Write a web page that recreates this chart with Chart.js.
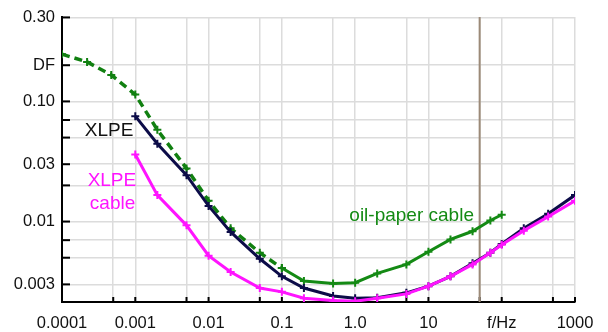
<!DOCTYPE html>
<html>
<head>
<meta charset="utf-8">
<script src="https://cdn.jsdelivr.net/npm/chart.js@4/dist/chart.umd.min.js"></script>
<style>
  html, body { margin: 0; padding: 0; background: #fff; }
  #wrap { width: 608px; height: 332px; }
</style>
</head>
<body>
<div id="wrap"><canvas id="dfChart"></canvas></div>
<script>
// frequency (Hz) and dissipation factor readings
var oilDashFreq = [0.0001, 0.00022, 0.00047, 0.001, 0.002, 0.005, 0.01, 0.02, 0.05, 0.1];
var oilDashDF   = [0.247, 0.213, 0.166, 0.114, 0.058, 0.0277, 0.0149, 0.0088, 0.0055, 0.0041];
var oilFreq = [0.1, 0.2, 0.5, 1, 2, 5, 10, 20, 40, 70, 100];
var oilDF   = [0.0041, 0.0032, 0.00305, 0.0031, 0.0037, 0.0044, 0.0056, 0.0071, 0.0083, 0.0102, 0.0114];
var xlpeFreq = [0.001, 0.002, 0.005, 0.01, 0.02, 0.05, 0.1, 0.2, 0.5, 1, 2, 5, 10, 20, 40, 70, 100, 200, 430, 1000];
var xlpeDF   = [0.0754, 0.0444, 0.0243, 0.0135, 0.0082, 0.0049, 0.0035, 0.0028, 0.0024, 0.0023, 0.00232, 0.00255, 0.0029, 0.0035, 0.0045, 0.0055, 0.0065, 0.0088, 0.0116, 0.0166];
var cableDF  = [0.0361, 0.0166, 0.0093, 0.0052, 0.0038, 0.0028, 0.0026, 0.0023, 0.0022, 0.00217, 0.0023, 0.0025, 0.0029, 0.0035, 0.0044, 0.0055, 0.0064, 0.0084, 0.011, 0.0149];

var xTicks = [0.0001, 0.0005, 0.001, 0.005, 0.01, 0.05, 0.1, 0.5, 1, 5, 10, 50, 100, 500, 1000];
var xTickLabels = {0.0001: "0.0001", 0.001: "0.001", 0.01: "0.01", 0.1: "0.1", 1: "1.0", 10: "10", 100: "f/Hz", 1000: "1000"};
var yTicks = [0.5, 0.2, 0.1, 0.07, 0.05, 0.03, 0.02, 0.01, 0.007, 0.005, 0.003];
var yTickLabels = {0.5: "0.30", 0.2: "DF", 0.1: "0.10", 0.03: "0.03", 0.01: "0.01", 0.003: "0.003"};
var mainsFreq = 50;

var notes = [
  { text: "XLPE", x: 0.00044, y: 0.0567, color: "#111" },
  { text: "XLPE", x: 0.00048, y: 0.0217, color: "#ff14ff" },
  { text: "cable", x: 0.00049, y: 0.0141, color: "#ff14ff" },
  { text: "oil-paper cable", x: 5.9, y: 0.0112, color: "#148a14" }
];

function pts(xs, ys) {
  return xs.map(function (f, i) { return { x: f, y: ys[i] }; });
}

var FONT = "'Liberation Sans', Arial, sans-serif";

var extras = {
  id: "extras",
  beforeDatasetsDraw: function (chart) {
    var c = chart.ctx, xs = chart.scales.x, ys = chart.scales.y, a = chart.chartArea;
    c.save();
    // inward tick marks
    c.strokeStyle = "#000";
    c.lineWidth = 2;
    xTicks.forEach(function (v) {
      var px = xs.getPixelForValue(v);
      c.beginPath(); c.moveTo(px, a.bottom); c.lineTo(px, a.bottom - 5); c.stroke();
    });
    yTicks.forEach(function (v) {
      var py = ys.getPixelForValue(v);
      c.beginPath(); c.moveTo(a.left, py); c.lineTo(a.left + 8, py); c.stroke();
    });
    // 50 Hz marker
    var lx = xs.getPixelForValue(mainsFreq);
    c.strokeStyle = "#9c8a78";
    c.lineWidth = 2;
    c.beginPath(); c.moveTo(lx, a.top); c.lineTo(lx, a.bottom); c.stroke();
    c.restore();
  },
  afterDraw: function (chart) {
    var c = chart.ctx, xs = chart.scales.x, ys = chart.scales.y;
    c.save();
    c.font = "19px " + FONT;
    c.textAlign = "center";
    c.textBaseline = "middle";
    notes.forEach(function (n) {
      c.fillStyle = n.color;
      c.fillText(n.text, xs.getPixelForValue(n.x), ys.getPixelForValue(n.y));
    });
    c.restore();
  }
};

var lineStyle = function (color, width) {
  return {
    borderColor: color,
    backgroundColor: color,
    borderWidth: width,
    pointStyle: "cross",
    pointRadius: 4,
    pointBorderWidth: 2,
    pointBorderColor: color,
    tension: 0,
    fill: false
  };
};

document.addEventListener("DOMContentLoaded", function () {
  var ctx = document.getElementById("dfChart").getContext("2d");
  new Chart(ctx, {
    type: "scatter",
    data: {
      datasets: [
        Object.assign({ label: "XLPE cable", data: pts(xlpeFreq, cableDF), showLine: true }, lineStyle("#ff14ff", 3)),
        Object.assign({ label: "XLPE", data: pts(xlpeFreq, xlpeDF), showLine: true }, lineStyle("#0c0c48", 3)),
        Object.assign({ label: "oil-paper (low f)", data: pts(oilDashFreq, oilDashDF), showLine: true, borderDash: [8, 5] }, lineStyle("#118011", 3.5)),
        Object.assign({ label: "oil-paper cable", data: pts(oilFreq, oilDF), showLine: true }, lineStyle("#148a14", 3))
      ]
    },
    options: {
      responsive: true,
      maintainAspectRatio: false,
      animation: false,
      layout: { padding: { top: 10, right: 33, left: 0, bottom: 0 } },
      plugins: { legend: { display: false }, tooltip: { enabled: false } },
      scales: {
        x: {
          type: "logarithmic",
          min: 0.0001,
          max: 1000,
          afterBuildTicks: function (s) { s.ticks = xTicks.map(function (v) { return { value: v }; }); },
          afterFit: function (s) { s.height = 30; },
          ticks: {
            autoSkip: false,
            maxRotation: 0,
            padding: 12,
            color: "#111",
            font: { family: FONT, size: 16.5 },
            callback: function (v) { return xTickLabels[v] || ""; }
          },
          grid: { color: "#dcdcdc", lineWidth: 1.5, drawTicks: false },
          border: { display: true, color: "#000", width: 2 }
        },
        y: {
          type: "logarithmic",
          min: 0.00214,
          max: 0.505,
          afterBuildTicks: function (s) { s.ticks = yTicks.map(function (v) { return { value: v }; }); },
          afterFit: function (s) { s.width = 62; },
          ticks: {
            autoSkip: false,
            padding: 7,
            color: "#111",
            font: { family: FONT, size: 16.5 },
            callback: function (v) { return yTickLabels[v] || ""; }
          },
          grid: { color: "#dcdcdc", lineWidth: 1.5, drawTicks: false },
          border: { display: true, color: "#000", width: 2 }
        }
      }
    },
    plugins: [extras]
  });
});
</script>
</body>
</html>
